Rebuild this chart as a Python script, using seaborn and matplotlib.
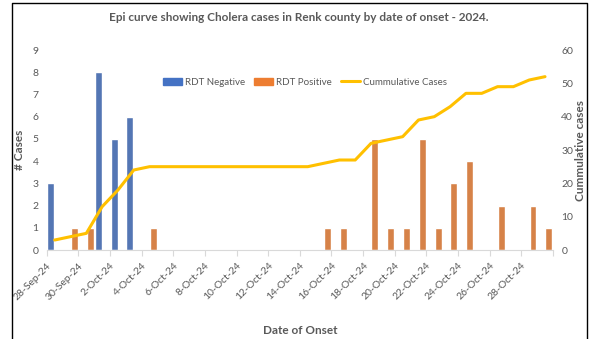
import pandas as pd
import seaborn as sns
import matplotlib.pyplot as plt
from matplotlib.lines import Line2D
from matplotlib.patches import Patch

# daily counts, 28-Sep-24 .. 29-Oct-24
dates = pd.date_range('2024-09-28', '2024-10-29')
rdt_negative = [3, 0, 0, 8, 5, 6, 0, 0, 0, 0, 0, 0, 0, 0, 0, 0,
                0, 0, 0, 0, 0, 0, 0, 0, 0, 0, 0, 0, 0, 0, 0, 0]
rdt_positive = [0, 1, 1, 0, 0, 0, 1, 0, 0, 0, 0, 0, 0, 0, 0, 0,
                0, 1, 1, 0, 5, 1, 1, 5, 1, 3, 4, 0, 2, 0, 2, 1]
cumulative = [3, 4, 5, 13, 18, 24, 25, 25, 25, 25, 25, 25, 25, 25, 25, 25,
              25, 26, 27, 27, 32, 33, 34, 39, 40, 43, 47, 47, 49, 49, 51, 52]

blue, orange, yellow = '#4472C4', '#ED7D31', '#FFC000'
grey = '#595959'

day = list(range(len(dates)))
df = pd.DataFrame({'day': day * 2,
                   'cases': rdt_negative + rdt_positive,
                   'result': ['RDT Negative'] * len(day) + ['RDT Positive'] * len(day)})

sns.set_style('white')
plt.rcParams['font.family'] = ['Lato', 'DejaVu Sans']

fig = plt.figure(figsize=(5.92, 3.39), dpi=100)
ax = fig.add_axes([0.079, 0.2625, 0.855, 0.59])

sns.barplot(data=df, x='day', y='cases', hue='result', palette=[blue, orange],
            width=0.96, gap=0.08, ax=ax, legend=False)

ax2 = ax.twinx()
sns.lineplot(x=day, y=cumulative, color=yellow, linewidth=2.2, ax=ax2)

ax.set_xlim(-0.5, len(day) - 0.5)
ax.set_ylim(0, 9)
ax.set_yticks(range(10))
ax2.set_ylim(0, 60)
ax2.set_yticks(range(0, 61, 10))

ticks = [i - 0.5 for i in range(0, len(day) + 1, 2)]
labels = [dates[i].strftime('%-d-%b-%y') for i in range(0, len(day), 2)] + ['']
ax.set_xticks(ticks)
ax.set_xticklabels(labels, rotation=45, ha='right', rotation_mode='anchor')

for a in (ax, ax2):
    for s in a.spines.values():
        s.set_visible(False)
    a.tick_params(axis='y', length=0, labelsize=7.5, labelcolor=grey, pad=6)
ax.spines['bottom'].set_visible(True)
ax.spines['bottom'].set_color('#D9D9D9')
ax.tick_params(axis='x', bottom=True, length=4, color='#D9D9D9', labelsize=7.5, labelcolor=grey, pad=4)

ax.set_xlabel('Date of Onset', fontsize=8.5, fontweight='bold', color=grey, labelpad=17)
ax.set_ylabel('# Cases', fontsize=8.5, fontweight='bold', color=grey, labelpad=5)
ax2.set_ylabel('Cummulative cases', fontsize=8.5, fontweight='bold', color=grey, labelpad=1)

fig.suptitle('Epi curve showing Cholera cases in Renk county by date of onset - 2024.',
             x=0.505, y=0.965, fontsize=8.5, fontweight='bold', color=grey)

handles = [Patch(color=blue), Patch(color=orange), Line2D([], [], color=yellow, linewidth=2.2)]
ax2.legend(handles, ['RDT Negative', 'RDT Positive', 'Cummulative Cases'],
           loc='center', bbox_to_anchor=(0.51, 0.84), ncol=3, frameon=False,
           fontsize=7, labelcolor=grey, handlelength=1.9, columnspacing=1.0, handletextpad=0.3)

# outer frame (left, top, right)
fig.add_artist(Line2D([0.02, 0.02, 0.992, 0.992], [0.0, 0.991, 0.991, 0.0],
                      transform=fig.transFigure, color='black', linewidth=1))

fig.savefig('out.png', dpi=100)
